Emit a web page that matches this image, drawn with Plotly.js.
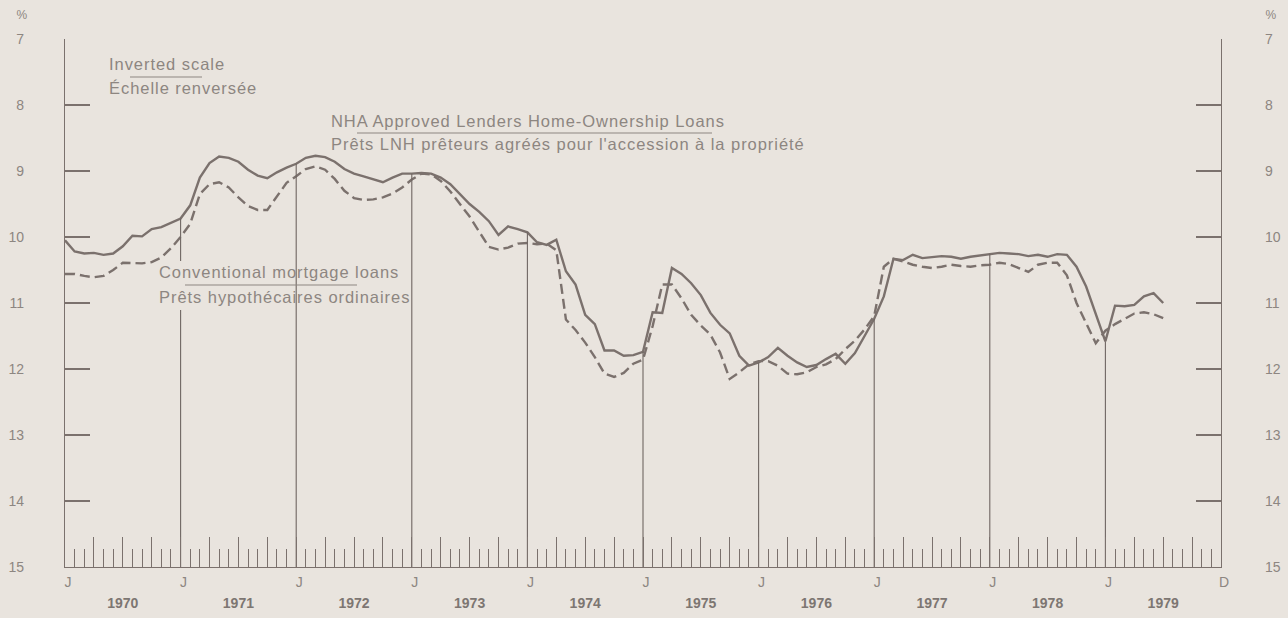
<!DOCTYPE html>
<html>
<head>
<meta charset="utf-8">
<script src="https://cdn.plot.ly/plotly-3.0.1.min.js"></script>
<style>
html,body{margin:0;padding:0;background:#e9e4de;}
#chart{width:1288px;height:618px;}
#chart .annotation-text{letter-spacing:0.95px;}
</style>
</head>
<body>
<div id="chart"></div>
<script>
// Month index: 0 = January 1970, one step per month
var years = [1970, 1971, 1972, 1973, 1974, 1975, 1976, 1977, 1978, 1979];

// NHA Approved Lenders Home-Ownership Loans (%), Jan 1970 - Jul 1979
var nhaRates = [
  10.05, 10.22, 10.25, 10.24, 10.27, 10.25, 10.14, 9.98, 9.99, 9.88, 9.85, 9.79,
  9.72, 9.52, 9.10, 8.88, 8.78, 8.80, 8.86, 8.98, 9.07, 9.11, 9.02, 8.95,
  8.89, 8.80, 8.77, 8.79, 8.86, 8.97, 9.04, 9.08, 9.13, 9.17, 9.10, 9.04,
  9.04, 9.03, 9.04, 9.10, 9.20, 9.35, 9.50, 9.62, 9.76, 9.97, 9.84, 9.88,
  9.93, 10.08, 10.12, 10.04, 10.52, 10.72, 11.18, 11.32, 11.72, 11.72, 11.80, 11.79,
  11.74, 11.14, 11.15, 10.47, 10.56, 10.70, 10.88, 11.15, 11.33, 11.46, 11.80, 11.95,
  11.90, 11.82, 11.68, 11.80, 11.90, 11.97, 11.94, 11.85, 11.77, 11.92, 11.76, 11.50,
  11.24, 10.90, 10.33, 10.35, 10.27, 10.32, 10.31, 10.29, 10.30, 10.33, 10.30, 10.28,
  10.26, 10.24, 10.25, 10.26, 10.29, 10.27, 10.30, 10.26, 10.27, 10.45, 10.75, 11.15,
  11.58, 11.04, 11.05, 11.03, 10.90, 10.85, 11.00
];

// Conventional mortgage loans (%), Jan 1970 - Jul 1979
var conventionalRates = [
  10.56, 10.56, 10.59, 10.61, 10.59, 10.50, 10.39, 10.40, 10.40, 10.38, 10.31, 10.17,
  10.00, 9.80, 9.35, 9.20, 9.17, 9.25, 9.40, 9.53, 9.59, 9.59, 9.38, 9.18,
  9.08, 8.97, 8.93, 8.98, 9.12, 9.30, 9.41, 9.44, 9.43, 9.40, 9.34, 9.25,
  9.13, 9.04, 9.05, 9.15, 9.31, 9.50, 9.69, 9.92, 10.15, 10.19, 10.16, 10.10,
  10.09, 10.11, 10.10, 10.20, 11.25, 11.41, 11.60, 11.82, 12.07, 12.12, 12.06, 11.92,
  11.86, 11.35, 10.72, 10.72, 10.93, 11.18, 11.34, 11.48, 11.75, 12.15, 12.05, 11.93,
  11.88, 11.88, 11.95, 12.07, 12.08, 12.05, 11.97, 11.93, 11.85, 11.70, 11.57, 11.40,
  11.20, 10.45, 10.33, 10.37, 10.42, 10.45, 10.47, 10.45, 10.42, 10.44, 10.45, 10.43,
  10.42, 10.39, 10.41, 10.47, 10.53, 10.42, 10.39, 10.39, 10.58, 11.00, 11.30, 11.61,
  11.42, 11.32, 11.24, 11.16, 11.14, 11.17, 11.23
];

// Axis tick labels
var yTicks = [7, 8, 9, 10, 11, 12, 13, 14, 15];
var monthLabel = "J";
var endLabel = "D";

// Labels
var invertedLabel = ["Inverted scale", "Échelle renversée"];
var nhaLabel = ["NHA Approved Lenders Home-Ownership Loans", "Prêts LNH prêteurs agréés pour l'accession à la propriété"];
var convLabel = ["Conventional mortgage loans", "Prêts hypothécaires ordinaires"];

var months = nhaRates.map(function (_, i) { return i; });
var totalMonths = years.length * 12;

// year-start lines from the baseline up to the NHA curve
var yrX = [], yrY = [];
for (var k = 1; k < years.length; k++) {
  var m = k * 12;
  yrX.push(m, m, null);
  yrY.push(15, nhaRates[m], null);
}

// bottom axis ticks
var qVals = [], qText = [];
for (var q = 0; q <= totalMonths; q += 3) {
  qVals.push(q);
  if (q === totalMonths) qText.push(endLabel);
  else if (q % 12 === 0) qText.push(monthLabel);
  else qText.push("");
}
var midYears = years.map(function (y, i) { return i * 12 + 6; });
var yearText = years.map(function (y) { return String(y); });

var ink = "#7b716d";
var txt = "#8d8681";
var bg = "#e9e4de";
var fnt = "Liberation Sans, Arial, sans-serif";

var traces = [
  {
    x: months, y: conventionalRates, type: "scatter", mode: "lines",
    line: { color: ink, width: 2.4, dash: "10px,5px" },
    xaxis: "x", yaxis: "y2", hoverinfo: "skip"
  },
  {
    x: months, y: nhaRates, type: "scatter", mode: "lines",
    line: { color: ink, width: 2.4 },
    xaxis: "x", yaxis: "y", hoverinfo: "skip"
  },
  {
    x: yrX, y: yrY, type: "scatter", mode: "lines",
    line: { color: "#6f6662", width: 1.1 },
    xaxis: "x2", yaxis: "y", hoverinfo: "skip"
  }
];

// pixel -> paper helpers (plot area 65..1221 x 39..567)
function px(x) { return (x - 65) / 1156; }
function py(y) { return (567 - y) / 528; }

function label(t, x, y) {
  return {
    xref: "paper", yref: "paper", x: px(x), y: py(y),
    xanchor: "left", yanchor: "middle", align: "left", showarrow: false, text: t,
    borderpad: 0,
    font: { family: fnt, size: 16.5, color: txt }
  };
}

var layout = {
  width: 1288, height: 618,
  margin: { l: 65, r: 67, t: 39, b: 51 },
  paper_bgcolor: bg, plot_bgcolor: bg,
  showlegend: false,
  font: { family: fnt, color: txt, size: 14 },
  xaxis: {
    range: [0, totalMonths], showgrid: false, zeroline: false,
    showline: true, linecolor: ink, linewidth: 1.2,
    tickmode: "array", tickvals: qVals, ticktext: qText,
    ticks: "inside", ticklen: 30, tickwidth: 1, tickcolor: ink,
    ticklabelstandoff: 2, ticklabelshift: 3,
    tickfont: { family: fnt, size: 14, color: txt },
    minor: { tickmode: "linear", tick0: 0, dtick: 1, ticks: "inside", ticklen: 18, tickwidth: 1, tickcolor: ink, showgrid: false }
  },
  xaxis2: {
    overlaying: "x", side: "bottom", anchor: "y",
    range: [0, totalMonths], showgrid: false, zeroline: false, showline: false,
    tickmode: "array", tickvals: midYears, ticktext: yearText,
    ticks: "", ticklabelstandoff: 26,
    tickfont: { family: fnt, size: 14, color: "#7d7672", weight: "bold" }
  },
  yaxis: {
    range: [15, 7], showgrid: false, zeroline: false,
    showline: true, linecolor: ink, linewidth: 1.2,
    tickmode: "array", tickvals: yTicks,
    ticks: "inside", ticklen: 25, tickwidth: 1.2, tickcolor: ink,
    ticklabelstandoff: 37,
    tickfont: { family: fnt, size: 14, color: txt }
  },
  yaxis2: {
    overlaying: "y", side: "right", anchor: "x",
    range: [15, 7], showgrid: false, zeroline: false,
    showline: true, linecolor: ink, linewidth: 1.2,
    tickmode: "array", tickvals: yTicks,
    ticks: "inside", ticklen: 25, tickwidth: 1.2, tickcolor: ink,
    ticklabelstandoff: 40,
    tickfont: { family: fnt, size: 14, color: txt }
  },
  shapes: [
    // gap behind the conventional label
    { type: "rect", layer: "above", xref: "paper", yref: "paper",
      x0: px(171), x1: px(188), y0: py(310), y1: py(261),
      fillcolor: bg, line: { width: 0 } },
    // underlines
    { type: "line", layer: "above", xref: "paper", yref: "paper",
      x0: px(130), x1: px(202), y0: py(77), y1: py(77), line: { color: txt, width: 1 } },
    { type: "line", layer: "above", xref: "paper", yref: "paper",
      x0: px(357), x1: px(712), y0: py(133), y1: py(133), line: { color: txt, width: 1 } },
    { type: "line", layer: "above", xref: "paper", yref: "paper",
      x0: px(185), x1: px(357), y0: py(285), y1: py(285), line: { color: txt, width: 1 } }
  ],
  annotations: [
    label(invertedLabel[0], 108, 64),
    label(invertedLabel[1], 108, 88),
    label(nhaLabel[0], 330, 121),
    label(nhaLabel[1], 330, 144),
    label(convLabel[0], 158, 272),
    label(convLabel[1], 158, 297),
    { xref: "paper", yref: "paper", x: px(22), y: py(15), xanchor: "center", yanchor: "middle",
      showarrow: false, text: "%", font: { family: fnt, size: 12, color: txt } },
    { xref: "paper", yref: "paper", x: px(1271), y: py(15), xanchor: "center", yanchor: "middle",
      showarrow: false, text: "%", font: { family: fnt, size: 12, color: txt } }
  ]
};

Plotly.newPlot("chart", traces, layout, { staticPlot: true, displayModeBar: false });
</script>
</body>
</html>
